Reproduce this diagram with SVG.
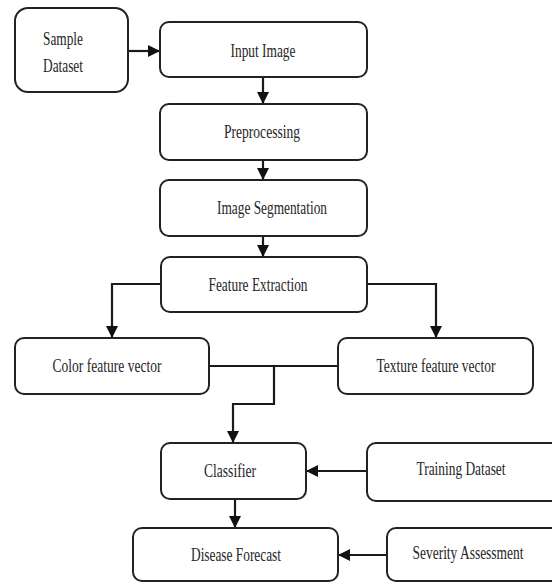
<svg xmlns="http://www.w3.org/2000/svg" width="552" height="582" viewBox="0 0 552 582">
<style>
.box{fill:#fff;stroke:#222;stroke-width:2}
.lbl{font-family:"Liberation Serif","Times New Roman",serif;font-size:18.5px;fill:#262626;text-anchor:middle}
.lft{text-anchor:start}
.con{fill:none;stroke:#1a1a1a;stroke-width:2.2}
.plain{fill:none;stroke:#1a1a1a;stroke-width:1.8}
</style>
<defs>
<marker id="ah" markerUnits="userSpaceOnUse" markerWidth="12" markerHeight="12" viewBox="0 0 12 12" refX="12" refY="6" orient="auto">
<path d="M0,0 L12,6 L0,12 Z" fill="#111"/>
</marker>
</defs>
<rect width="552" height="582" fill="#fff"/>
<g id="connectors">
<line class="con" x1="128" y1="51" x2="160" y2="51" marker-end="url(#ah)"/>
<line class="con" x1="263" y1="77" x2="263" y2="104" marker-end="url(#ah)"/>
<line class="con" x1="263" y1="160" x2="263" y2="180" marker-end="url(#ah)"/>
<line class="con" x1="263" y1="236" x2="263" y2="257" marker-end="url(#ah)"/>
<polyline class="con" points="161,284 112,284 112,338" marker-end="url(#ah)"/>
<polyline class="con" points="367,284 436,284 436,338" marker-end="url(#ah)"/>
<line class="plain" x1="209" y1="366" x2="338" y2="366"/>
<polyline class="con" points="274,366 274,404 233,404 233,443" marker-end="url(#ah)"/>
<line class="con" x1="235" y1="499" x2="235" y2="528" marker-end="url(#ah)"/>
<line class="con" x1="367" y1="471" x2="306" y2="471" marker-end="url(#ah)"/>
<line class="con" x1="387" y1="555" x2="338" y2="555" marker-end="url(#ah)"/>
</g>
<g id="sample-dataset">
<rect class="box" x="15" y="8" width="113" height="84" rx="13"/>
<text class="lbl lft" x="43" y="45" textLength="40" lengthAdjust="spacingAndGlyphs">Sample</text>
<text class="lbl lft" x="43" y="72" textLength="40" lengthAdjust="spacingAndGlyphs">Dataset</text>
</g>
<g id="input-image">
<rect class="box" x="160" y="22" width="207" height="55" rx="9"/>
<text class="lbl" x="263" y="57" textLength="65" lengthAdjust="spacingAndGlyphs">Input Image</text>
</g>
<g id="preprocessing">
<rect class="box" x="160" y="104" width="207" height="56" rx="9"/>
<text class="lbl" x="262" y="138" textLength="76" lengthAdjust="spacingAndGlyphs">Preprocessing</text>
</g>
<g id="image-segmentation">
<rect class="box" x="160" y="180" width="207" height="56" rx="9"/>
<text class="lbl" x="272" y="214" textLength="110" lengthAdjust="spacingAndGlyphs">Image Segmentation</text>
</g>
<g id="feature-extraction">
<rect class="box" x="161" y="257" width="206" height="55" rx="9"/>
<text class="lbl" x="258" y="291" textLength="99" lengthAdjust="spacingAndGlyphs">Feature Extraction</text>
</g>
<g id="color-feature-vector">
<rect class="box" x="15" y="338" width="194" height="56" rx="9"/>
<text class="lbl" x="107" y="372" textLength="109" lengthAdjust="spacingAndGlyphs">Color feature vector</text>
</g>
<g id="texture-feature-vector">
<rect class="box" x="338" y="338" width="195" height="56" rx="9"/>
<text class="lbl" x="436" y="372" textLength="119" lengthAdjust="spacingAndGlyphs">Texture feature vector</text>
</g>
<g id="classifier">
<rect class="box" x="161" y="443" width="145" height="56" rx="9"/>
<text class="lbl" x="230" y="477" textLength="52" lengthAdjust="spacingAndGlyphs">Classifier</text>
</g>
<g id="training-dataset">
<rect class="box" x="367" y="443" width="205" height="58" rx="9"/>
<text class="lbl" x="461" y="475" textLength="89" lengthAdjust="spacingAndGlyphs">Training Dataset</text>
</g>
<g id="disease-forecast">
<rect class="box" x="133" y="528" width="205" height="53" rx="9"/>
<text class="lbl" x="236" y="561" textLength="90" lengthAdjust="spacingAndGlyphs">Disease Forecast</text>
</g>
<g id="severity-assessment">
<rect class="box" x="387" y="528" width="185" height="53" rx="9"/>
<text class="lbl" x="468" y="559" textLength="111" lengthAdjust="spacingAndGlyphs">Severity Assessment</text>
</g>
</svg>
